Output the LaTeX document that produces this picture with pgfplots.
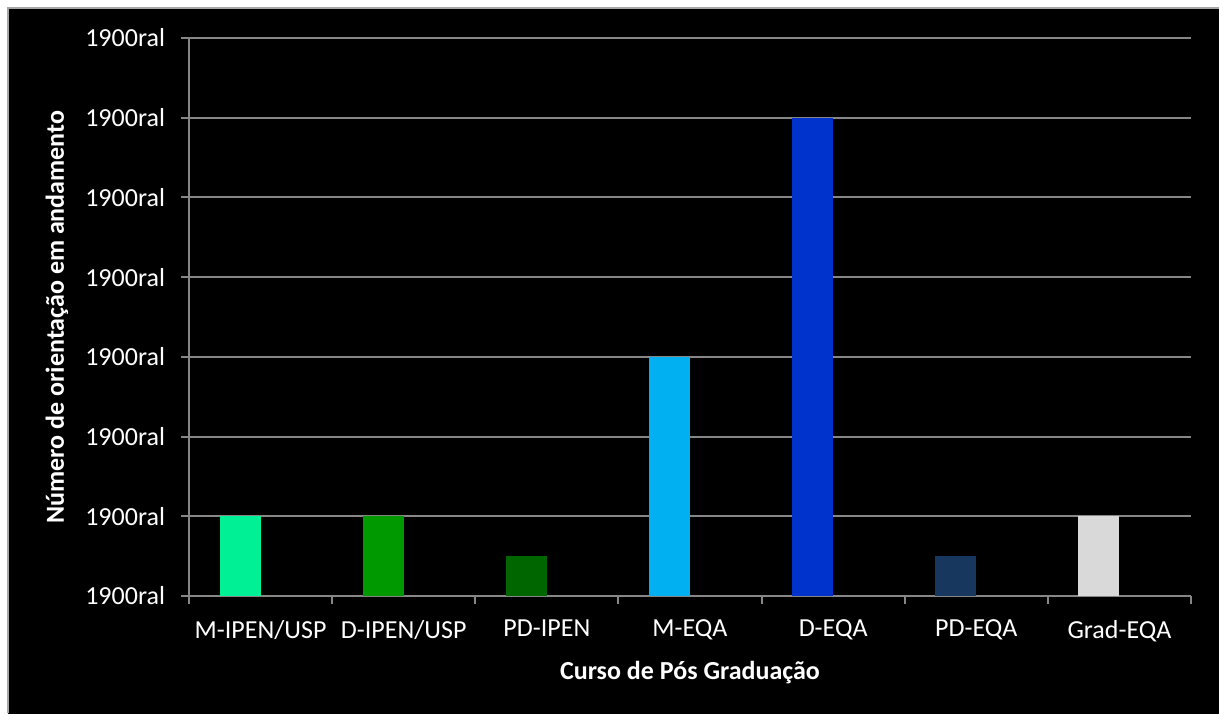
\documentclass[border=0pt]{standalone}
\usepackage{pgfplots}
\pgfplotsset{compat=1.18}
\usepackage{fontspec}
\setmainfont{Carlito}
\definecolor{cA}{RGB}{0,240,150}
\definecolor{cB}{RGB}{0,153,0}
\definecolor{cC}{RGB}{0,102,0}
\definecolor{cD}{RGB}{0,176,240}
\definecolor{cE}{RGB}{0,51,204}
\definecolor{cF}{RGB}{23,55,94}
\definecolor{cG}{RGB}{217,217,217}
\definecolor{gridgray}{RGB}{134,134,134}
\begin{document}
\begin{tikzpicture}[x=1bp,y=1bp]
\useasboundingbox (0,0) rectangle (609.5,356.5);
\fill[white] (0,0) rectangle (609.5,356.5);
\fill[black] (4,-2) rectangle (612,352.5);
\draw[gray!70,line width=1bp] (4,0) -- (4,352.5) -- (609.5,352.5);
\begin{axis}[
  at={(94.5bp,58.5bp)}, anchor=south west,
  scale only axis,
  width=501bp, height=279bp,
  xmin=-0.5, xmax=6.5, ymin=0, ymax=7,
  axis x line=bottom, axis y line=left,
  axis line style={-, gridgray, line width=1bp},
  tick align=outside,
  xtick={0,...,6},
  xticklabels={M-IPEN/USP,D-IPEN/USP,PD-IPEN,M-EQA,D-EQA,PD-EQA,Grad-EQA},
  major x tick style={draw=none},
  minor xtick={-0.5,0.5,...,6.5},
  minor tick length=4bp,
  minor x tick style={gridgray, line width=1bp},
  ytick={0,...,7},
  yticklabel={1900ral},
  major tick length=4bp,
  major y tick style={gridgray, line width=1bp},
  ymajorgrids,
  major grid style={gridgray, line width=1bp},
  every tick label/.append style={font=\fontsize{13bp}{16bp}\selectfont, text=white},
  yticklabel style={xshift=-4.5bp},
  xticklabel style={yshift=-4.5bp},
  xlabel={Curso de Pós Graduação},
  ylabel={Número de orientação em andamento},
  every axis x label/.style={at={(rel axis cs:0.5,0)}, anchor=center, yshift=-38.5bp, font=\fontsize{13bp}{16bp}\selectfont\bfseries, text=white},
  every axis y label/.style={at={(rel axis cs:0,0.5)}, xshift=-66bp, rotate=90, anchor=center, font=\fontsize{13bp}{16bp}\selectfont\bfseries, text=white},
]
\addplot[ybar, bar width=20.5bp, bar shift=-10.25bp, fill=cA, draw=none] coordinates {(0,1)};
\addplot[ybar, bar width=20.5bp, bar shift=-10.25bp, fill=cB, draw=none] coordinates {(1,1)};
\addplot[ybar, bar width=20.5bp, bar shift=-10.25bp, fill=cC, draw=none] coordinates {(2,0.5)};
\addplot[ybar, bar width=20.5bp, bar shift=-10.25bp, fill=cD, draw=none] coordinates {(3,3)};
\addplot[ybar, bar width=20.5bp, bar shift=-10.25bp, fill=cE, draw=none] coordinates {(4,6)};
\addplot[ybar, bar width=20.5bp, bar shift=-10.25bp, fill=cF, draw=none] coordinates {(5,0.5)};
\addplot[ybar, bar width=20.5bp, bar shift=-10.25bp, fill=cG, draw=none] coordinates {(6,1)};
\end{axis}
\end{tikzpicture}
\end{document}
